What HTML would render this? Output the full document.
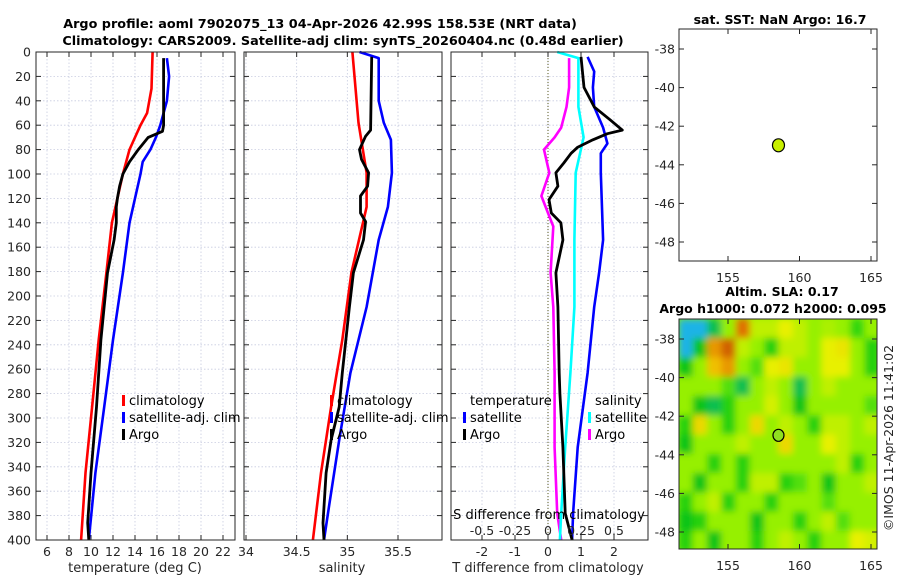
<!DOCTYPE html>
<html><head><meta charset="utf-8"><style>
html,body{margin:0;padding:0;background:#fff;}
svg{display:block;font-family:"DejaVu Sans","Liberation Sans",sans-serif;}
</style></head><body>
<svg id="fig" width="900" height="580" viewBox="0 0 900 580" xmlns="http://www.w3.org/2000/svg">
<text x="320" y="28" text-anchor="middle" font-weight="bold" font-size="12.8" fill="#000">Argo profile: aoml 7902075_13 04-Apr-2026 42.99S 158.53E (NRT data)</text>
<text x="343" y="45" text-anchor="middle" font-weight="bold" font-size="12.8" fill="#000">Climatology: CARS2009. Satellite-adj clim: synTS_20260404.nc (0.48d earlier)</text>
<text x="780" y="24" text-anchor="middle" font-weight="bold" font-size="12.5">sat. SST: NaN Argo: 16.7</text>
<text x="782" y="296" text-anchor="middle" font-weight="bold" font-size="12.5">Altim. SLA: 0.17</text>
<text x="773" y="313" text-anchor="middle" font-weight="bold" font-size="12.5">Argo h1000: 0.072 h2000: 0.095</text>
<text transform="translate(893,438) rotate(-90)" text-anchor="middle" font-size="12.5" fill="#262626">©IMOS 11-Apr-2026 11:41:02</text>
<g id="layer"></g>
</svg>
<script>
// ---- data ----
const tClimDepth=[0,30,50,60,70,80,90,100,120,140,181,236,291,345,400];
const tClimVal=[15.6,15.5,15.1,14.5,14.0,13.5,13.2,12.9,12.4,11.9,11.4,10.7,10.1,9.5,9.1];
const tSatDepth=[5,20,40,50,60,70,80,90,100,120,140,181,236,291,345,400];
const tSatVal=[16.9,17.1,16.9,16.6,16.3,15.9,15.4,14.7,14.5,14.0,13.5,12.9,12.0,11.2,10.4,9.8];
const tArgoDepth=[5,30,60,65,70,80,90,100,110,120,127,140,154,181,236,291,345,386,400];
const tArgoVal=[16.6,16.6,16.6,16.5,15.2,14.3,13.5,12.9,12.6,12.4,12.3,12.3,12.1,11.5,10.9,10.5,10.0,9.7,9.8];

const sClimDepth=[0,58,99,127,181,236,291,345,400];
const sClimVal=[35.05,35.11,35.19,35.19,35.04,34.95,34.84,34.74,34.66];
const sSatDepth=[0,5,40,58,72,99,127,154,209,263,318,372,400];
const sSatVal=[35.12,35.31,35.31,35.36,35.43,35.44,35.40,35.31,35.19,35.03,34.92,34.82,34.77];
const sArgoDepth=[4,64,69,80,88,99,110,118,132,139,154,181,209,263,291,318,345,386,400];
const sArgoVal=[35.24,35.23,35.18,35.12,35.14,35.21,35.20,35.13,35.13,35.18,35.16,35.06,35.02,34.95,34.92,34.84,34.79,34.76,34.77];

const dTArgoDepth=[4,29,45,56,64,67,72,78,83,91,99,110,121,132,140,154,181,209,263,280,324,378,400];
const dTArgoVal=[1.0,1.09,1.4,1.9,2.25,1.8,1.36,0.9,0.7,0.48,0.24,0.3,0.03,0.1,0.39,0.45,0.24,0.3,0.34,0.36,0.45,0.52,0.73];
const dTSatDepth=[4,16,29,45,62,75,83,99,154,181,209,263,324,378,400];
const dTSatVal=[1.2,1.4,1.36,1.4,1.67,1.8,1.6,1.6,1.67,1.55,1.4,1.2,0.9,0.76,0.73];
const dSSatDepth=[0,5,45,70,99,154,209,263,324,378,400];
const dSSatVal=[0.07,0.23,0.23,0.27,0.21,0.2,0.2,0.17,0.13,0.1,0.09];
const dSArgoDepth=[5,29,45,62,70,80,99,118,132,143,181,209,263,324,378,400];
const dSArgoVal=[0.16,0.16,0.14,0.10,0.05,-0.03,0.01,-0.05,0.0,0.04,0.02,0.04,0.05,0.05,0.07,0.10];

const depthTicks=[0,20,40,60,80,100,120,140,160,180,200,220,240,260,280,300,320,340,360,380,400];
const tempTicks=[6,8,10,12,14,16,18,20,22];
const salTicks=[34,34.5,35,35.5];
const salTickLabels=["34","34.5","35","35.5"];
const dTTicks=[-2,-1,0,1,2];
const dSTicks=[-0.5,-0.25,0,0.25,0.5];
const dSTickLabels=["-0.5","-0.25","0","0.25","0.5"];
const latTicks=[-38,-40,-42,-44,-46,-48];
const lonTicks=[155,160,165];
const argoLon=158.53, argoLat=-42.99;
const slaLon0=151.6, slaLat0=-37;
const slaGrid=[
[-0.6,-0.6,-0.4,0,0.6,0.1,0.1,0.2,0.1,0,0.05,0,-0.15,0],
[-0.6,-0.3,0.5,0.7,0.1,0,-0.2,0.1,0.1,0,0.2,0.25,0,-0.2],
[-0.3,0,0.4,0.5,0,-0.1,0.2,0.25,0,0,0.2,0.2,0,-0.2],
[0,0,0,-0.1,-0.4,0,0.1,0,-0.4,0,0.1,0,0,0],
[0,-0.3,-0.4,-0.2,0,0,0.15,0,-0.3,0,0,0,0,-0.1],
[-0.2,0.3,0,-0.2,0,0.3,0,0.1,0,-0.2,0.1,0.1,0,0.1],
[-0.3,0,0,0,0.1,0,0,0.3,0,0,0.2,0.1,0,0],
[0,0,-0.2,0,-0.2,0,0,0,0,0,0,0.1,-0.2,0],
[0,-0.3,0,0,-0.2,0.1,0.1,-0.2,-0.1,0,-0.3,0,0,0.1],
[-0.2,0,0.1,-0.2,0,0,-0.2,0,0,0,-0.1,0,0,0],
[-0.3,-0.2,0,0,0,-0.3,0,0,-0.2,0,0.1,-0.1,0,0],
[-0.2,0,-0.3,0,0,-0.2,0,0.1,0,-0.2,0,0,0.2,0.15]];

// ---- helpers ----
const NS="http://www.w3.org/2000/svg";
const layer=document.getElementById('layer');
function mk(tag,attrs,parent){const e=document.createElementNS(NS,tag);for(const k in attrs)e.setAttribute(k,attrs[k]);(parent||layer).appendChild(e);return e;}
const Y0=52,Y1=540;
const yD=d=>Y0+(Y1-Y0)*d/400;
function lin(d0,d1,r0,r1){return v=>r0+(v-d0)*(r1-r0)/(d1-d0);}

const panels=[
 {name:'temperature',x0:36,x1:235,sx:lin(5,23,36,234)},
 {name:'salinity',x0:244,x1:442,sx:lin(34,35.5,246,398)},
 {name:'difference',x0:451,x1:648,sx:lin(0,1,548,581)}
];
const sxS=lin(0,0.25,548,581);

function panelFrame(p,xt){
  const g=mk('g',{});
  
  
  depthTicks.forEach(d=>{const l=mk('line',{x1:p.x0,x2:p.x1,y1:yD(d),y2:yD(d),stroke:'#c8cce0','stroke-width':0.8,'stroke-dasharray':'1.5 2'},g);
    });
  xt.forEach(v=>{const x=p.sx(v);const l=mk('line',{x1:x,x2:x,y1:Y0,y2:Y1,stroke:'#c8cce0','stroke-width':0.8,'stroke-dasharray':'1.5 2'},g);
    });
  return g;
}
function panelBorder(p,xt,xl){
  const g=mk('g',{});
  
  
  mk('rect',{x:p.x0,y:Y0,width:p.x1-p.x0,height:Y1-Y0,fill:'none',stroke:'#262626','stroke-width':1},g);
  depthTicks.forEach(d=>{mk('line',{x1:p.x0,x2:p.x0+5,y1:yD(d),y2:yD(d),stroke:'#262626'},g);mk('line',{x1:p.x1-5,x2:p.x1,y1:yD(d),y2:yD(d),stroke:'#262626'},g);});
  xt.forEach((v,i)=>{const x=p.sx(v);mk('line',{x1:x,x2:x,y1:Y0,y2:Y0+5,stroke:'#262626'},g);mk('line',{x1:x,x2:x,y1:Y1-5,y2:Y1,stroke:'#262626'},g);
    const t=mk('text',{x:x,y:556,'text-anchor':'middle','font-size':12.5,fill:'#262626'},g);t.textContent=xl[i];
    });
}
function line(p,depths,vals,color,name,sx,w){
  const fx=sx||p.sx;
  const pts=depths.map((d,i)=>fx(vals[i]).toFixed(1)+','+yD(d).toFixed(1)).join(' ');
  const e=mk('polyline',{points:pts,fill:'none',stroke:color,'stroke-width':w||2.6,'stroke-linejoin':'round'});
  
  
}
function txt(x,y,s,name,opt){const t=mk('text',Object.assign({x:x,y:y,'font-size':12.5,fill:'#262626'},opt||{}));t.textContent=s;
  return t;}
function legendItem(x,y,color,label,name){
  const r=mk('rect',{x:x,y:y-10,width:3,height:11,fill:color});
  
  txt(x+7,y,label,name,{'font-size':13,fill:'#000'});
}

// Panel 1
panelFrame(panels[0],tempTicks);
line(panels[0],tClimDepth,tClimVal,'#ff0000','temp-climatology-line');
line(panels[0],tSatDepth,tSatVal,'#0000ff','temp-satellite-line');
line(panels[0],tArgoDepth,tArgoVal,'#000000','temp-argo-line',null,2.8);
panelBorder(panels[0],tempTicks,tempTicks.map(String));
depthTicks.forEach(d=>{txt(31,yD(d)+4.5,String(d),'depth-tick-label',{'text-anchor':'end'});});
txt(135,572,'temperature (deg C)','temperature-x-title',{'text-anchor':'middle','font-size':13});
legendItem(122,405,'#ff0000','climatology','legend-climatology');
legendItem(122,422,'#0000ff','satellite-adj. clim','legend-satellite-adj');
legendItem(122,439,'#000000','Argo','legend-argo');

// Panel 2
panelFrame(panels[1],salTicks);
line(panels[1],sClimDepth,sClimVal,'#ff0000','sal-climatology-line');
line(panels[1],sSatDepth,sSatVal,'#0000ff','sal-satellite-line');
line(panels[1],sArgoDepth,sArgoVal,'#000000','sal-argo-line',null,2.8);
panelBorder(panels[1],salTicks,salTickLabels);
txt(342,572,'salinity','salinity-x-title',{'text-anchor':'middle','font-size':13});
legendItem(330,405,'#ff0000','climatology','legend2-climatology');
legendItem(330,422,'#0000ff','satellite-adj. clim','legend2-satellite-adj');
legendItem(330,439,'#000000','Argo','legend2-argo');

// Panel 3
panelFrame(panels[2],dTTicks);
{const z=mk('line',{x1:panels[2].sx(0),x2:panels[2].sx(0),y1:Y0,y2:Y1,stroke:'#5a5a20','stroke-width':1,'stroke-dasharray':'1 2'});
 }
line(panels[2],dSArgoDepth,dSArgoVal,'#ff00ff','sdiff-argo-line',sxS);
line(panels[2],dSSatDepth,dSSatVal,'#00ffff','sdiff-satellite-line',sxS);
line(panels[2],dTSatDepth,dTSatVal,'#0000ff','tdiff-satellite-line');
line(panels[2],dTArgoDepth,dTArgoVal,'#000000','tdiff-argo-line',null,2.8);
panelBorder(panels[2],dTTicks,dTTicks.map(String));
dSTicks.forEach((v,i)=>txt(sxS(v),535,dSTickLabels[i],'s-tick-label',{'text-anchor':'middle'}));
txt(549,519,'S difference from climatology','s-diff-x-title',{'text-anchor':'middle','font-size':13,fill:'#000'});
txt(548,572,'T difference from climatology','t-diff-x-title',{'text-anchor':'middle','font-size':13});
txt(470,405,'temperature','legend3-temperature-header',{'font-size':13,fill:'#000'});
legendItem(463,422,'#0000ff','satellite','legend3-t-satellite');
legendItem(463,439,'#000000','Argo','legend3-t-argo');
txt(595,405,'salinity','legend3-salinity-header',{'font-size':13,fill:'#000'});
legendItem(588,422,'#00ffff','satellite','legend3-s-satellite');
legendItem(588,439,'#ff00ff','Argo','legend3-s-argo');

// ---- maps ----
function mapAxes(name,x0,x1,y0,y1,lonx,laty,lonLabelY){
  const g=mk('g',{});
  
  
  mk('rect',{x:x0,y:y0,width:x1-x0,height:y1-y0,fill:'none',stroke:'#262626'},g);
  latTicks.forEach(v=>{const y=laty(v);mk('line',{x1:x0,x2:x0+5,y1:y,y2:y,stroke:'#262626'},g);mk('line',{x1:x1-5,x2:x1,y1:y,y2:y,stroke:'#262626'},g);
    const t=mk('text',{x:x0-4,y:y+4.5,'text-anchor':'end','font-size':12.5,fill:'#262626'},g);t.textContent=String(v);
    });
  lonTicks.forEach(v=>{const x=lonx(v);mk('line',{x1:x,x2:x,y1:y0,y2:y0+5,stroke:'#262626'},g);mk('line',{x1:x,x2:x,y1:y1-5,y2:y1,stroke:'#262626'},g);
    const t=mk('text',{x:x,y:lonLabelY,'text-anchor':'middle','font-size':12.5,fill:'#262626'},g);t.textContent=String(v);
    });
}
const lonx=lin(155,160,728,799.5);
const lat1=lin(-38,-48,49,242);
const lat2=lin(-38,-48,339,532);

function slaColor(v){
  const st=[[-0.8,[0,128,255]],[-0.55,[32,192,224]],[-0.35,[0,190,30]],[-0.15,[50,215,10]],[0,[150,240,0]],[0.2,[232,240,0]],[0.4,[240,192,0]],[0.6,[224,112,0]],[0.8,[192,80,0]]];
  if(v<=st[0][0])return 'rgb('+st[0][1]+')';
  for(let i=1;i<st.length;i++){if(v<=st[i][0]){const a=st[i-1],b=st[i],t=(v-a[0])/(b[0]-a[0]);
    return 'rgb('+a[1].map((c,k)=>Math.round(c+(b[1][k]-c)*t)).join(',')+')';}}
  return 'rgb('+st[st.length-1][1]+')';
}
const defs=mk('defs',{});
const cp=mk('clipPath',{id:'slaclip'},defs);mk('rect',{x:679,y:319,width:198,height:230},cp);
const fl=mk('filter',{id:'blur',x:'-10%',y:'-10%',width:'120%',height:'120%'},defs);mk('feGaussianBlur',{stdDeviation:3.5},fl);
const hg=mk('g',{'clip-path':'url(#slaclip)'});


mk('rect',{x:679,y:319,width:198,height:230,fill:slaColor(0)},hg);
const hb=mk('g',{filter:'url(#blur)'},hg);
slaGrid.forEach((row,r)=>row.forEach((v,c)=>{
  const xa=lonx(slaLon0+c),xb=lonx(slaLon0+c+1),ya=lat2(slaLat0-r),yb=lat2(slaLat0-r-1);
  const cell=mk('rect',{x:xa-1,y:ya-1,width:xb-xa+2,height:yb-ya+2,fill:slaColor(v)},hb);
  
  
}));
mapAxes('sst-map',679,877,29,261,lonx,lat1,282);
mapAxes('sla-map',679,877,319,549,lonx,lat2,570);
{const c=mk('ellipse',{cx:lonx(argoLon),cy:lat1(argoLat),rx:6,ry:6.5,fill:'#c8f000',stroke:'#000','stroke-width':1.2});
 
 const c2=mk('ellipse',{cx:lonx(argoLon),cy:lat2(argoLat),rx:5.5,ry:6,fill:'#90e020',stroke:'#000','stroke-width':1.2});
 }
</script>
</body></html>
